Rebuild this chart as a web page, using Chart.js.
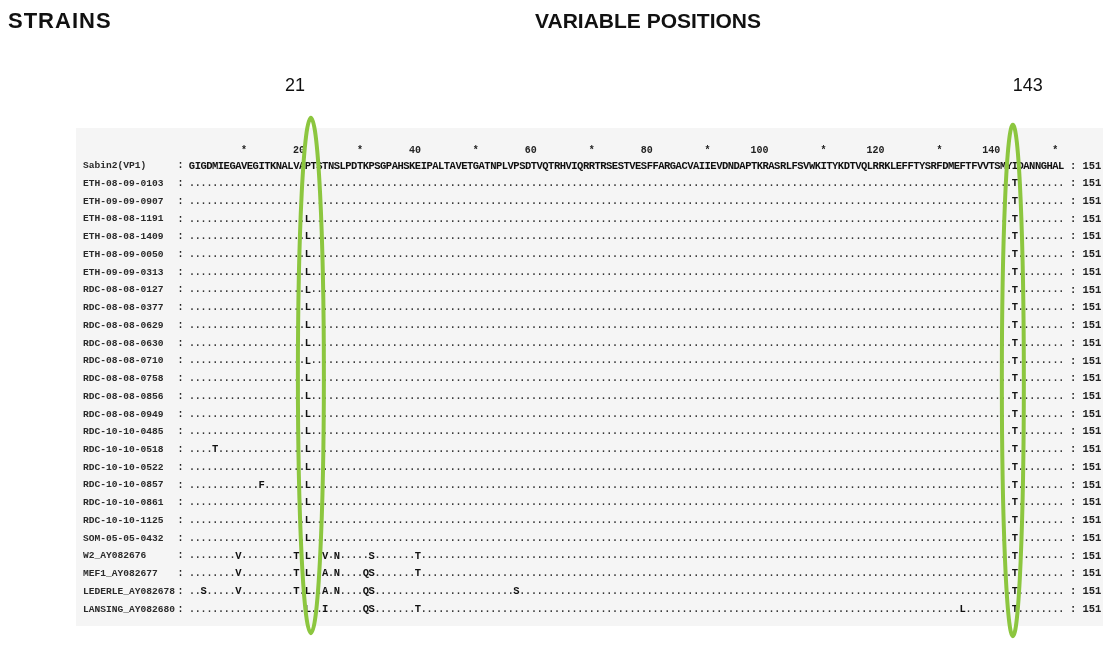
<!DOCTYPE html>
<html>
<head>
<meta charset="utf-8">
<script src="https://cdn.jsdelivr.net/npm/chart.js@4.4.1/dist/chart.umd.min.js"></script>
<style>
  html, body { margin: 0; padding: 0; background: #fff; }
  #wrap { width: 1103px; height: 646px; position: relative; }
</style>
</head>
<body>
<div id="wrap"><canvas id="alignChart"></canvas></div>
<script>
const strains = [
  "Sabin2(VP1)",
  "ETH-08-09-0103", "ETH-09-09-0907", "ETH-08-08-1191", "ETH-08-08-1409",
  "ETH-08-09-0050", "ETH-09-09-0313",
  "RDC-08-08-0127", "RDC-08-08-0377", "RDC-08-08-0629", "RDC-08-08-0630",
  "RDC-08-08-0710", "RDC-08-08-0758", "RDC-08-08-0856", "RDC-08-08-0949",
  "RDC-10-10-0485", "RDC-10-10-0518", "RDC-10-10-0522", "RDC-10-10-0857",
  "RDC-10-10-0861", "RDC-10-10-1125",
  "SOM-05-05-0432",
  "W2_AY082676", "MEF1_AY082677", "LEDERLE_AY082678", "LANSING_AY082680"
];

// reference VP1 segment (positions 1-151)
const sabin2Seq =
  "GIGDMIEGAVEGITKNALVAPTSTNSLPDTKPSGPAHSKEIPALTAVETGATNPLVPSDTVQTRHVIQRRTRSESTVESFFARGACVAIIEVDNDAPTKRASRLFSVWKITYKDTVQLRRKLEFFTYSRFDMEFTFVVTSMYIDANNGHAL";

// differences from the reference, same order as strains ("position + residue")
const substitutions = [
  "",
  "143T", "143T", "21L 143T", "21L 143T", "21L 143T", "21L 143T",
  "21L 143T", "21L 143T", "21L 143T", "21L 143T",
  "21L 143T", "21L 143T", "21L 143T", "21L 143T",
  "21L 143T", "5T 21L 143T", "21L 143T", "13F 21L 143T",
  "21L 143T", "21L 143T",
  "21L 143T",
  "9V 19T 21L 24V 26N 32S 40T 143T",
  "9V 19T 21L 24A 26N 31Q 32S 40T 143T",
  "3S 9V 19T 21L 24A 26N 31Q 32S 57S 143T",
  "21L 24I 31Q 32S 40T 134L 143T"
];

const alignedLength = 151;
const rulerMarks = [10, 20, 30, 40, 50, 60, 70, 80, 90, 100, 110, 120, 130, 140, 150];
const rulerLabels = ["*", "20", "*", "40", "*", "60", "*", "80", "*", "100", "*", "120", "*", "140", "*"];
const highlightPositions = [21, 143];
const highlightLabels = ["21", "143"];

const monoFont = "'Liberation Mono', 'DejaVu Sans Mono', monospace";

function buildPoints() {
  const points = [];
  strains.forEach((name, row) => {
    const subs = {};
    substitutions[row].split(" ").filter(Boolean).forEach((s) => {
      subs[parseInt(s)] = s.replace(/\d+/, "");
    });
    for (let p = 1; p <= alignedLength; p++) {
      const ch = row === 0 ? sabin2Seq[p - 1] : (subs[p] || ".");
      points.push({ x: p, y: name, ch: ch });
    }
  });
  return points;
}

const alignmentText = {
  id: "alignmentText",
  beforeDraw(chart) {
    const ctx = chart.ctx;
    const area = chart.chartArea;
    ctx.save();
    ctx.fillStyle = "#f5f5f5";
    ctx.fillRect(76, area.top - 29, chart.width - 76, area.bottom - area.top + 37);
    ctx.restore();
  },
  afterDatasetsDraw(chart) {
    const ctx = chart.ctx;
    const xs = chart.scales.x;
    const ys = chart.scales.y;
    const pts = chart.data.datasets[0].data;
    const meta = chart.getDatasetMeta(0);

    ctx.save();
    ctx.textAlign = "center";
    ctx.textBaseline = "middle";
    meta.data.forEach((el, i) => {
      const ch = pts[i].ch;
      if (ch === ".") {
        ctx.font = "bold 10px " + monoFont;
        ctx.fillStyle = "#333";
      } else {
        ctx.font = "bold 10.5px " + monoFont;
        ctx.fillStyle = "#111";
      }
      ctx.fillText(ch, el.x, el.y);
    });
    // ":" between the names and the residues
    ctx.font = "bold 10px " + monoFont;
    ctx.fillStyle = "#222";
    strains.forEach((s, r) => {
      ctx.fillText(":", xs.getPixelForValue(-1), ys.getPixelForValue(r));
    });

    // green ellipses round the variable positions
    const firstRow = ys.getPixelForValue(0);
    const lastRow = ys.getPixelForValue(strains.length - 1);
    const shapes = [
      { dx: 3, rx: 13, top: firstRow - 48, bottom: lastRow + 24 },
      { dx: -2, rx: 11, top: firstRow - 41, bottom: lastRow + 27 }
    ];
    ctx.strokeStyle = "#8cc63f";
    ctx.lineWidth = 4;
    highlightPositions.forEach((pos, i) => {
      const s = shapes[i];
      const cx = xs.getPixelForValue(pos) + s.dx;
      ctx.beginPath();
      ctx.ellipse(cx, (s.top + s.bottom) / 2, s.rx, (s.bottom - s.top) / 2, 0, 0, Math.PI * 2);
      ctx.stroke();
    });

    // position numbers above the ellipses
    ctx.fillStyle = "#111";
    ctx.font = "18px 'Liberation Sans', Arial, sans-serif";
    const labelDx = [-13, 13];
    highlightPositions.forEach((pos, i) => {
      ctx.fillText(highlightLabels[i], xs.getPixelForValue(pos) + labelDx[i], 86);
    });

    // headings
    ctx.font = "bold 21px 'Liberation Sans', Arial, sans-serif";
    ctx.textAlign = "center";
    ctx.fillText("VARIABLE POSITIONS", 648, 22);
    ctx.font = "bold 22px 'Liberation Sans', Arial, sans-serif";
    ctx.textAlign = "left";
    ctx.letterSpacing = "1px";
    ctx.fillText("STRAINS", 8, 22);
    ctx.restore();
  }
};

const ctx = document.getElementById("alignChart").getContext("2d");
new Chart(ctx, {
  type: "scatter",
  data: {
    datasets: [
      {
        label: "alignment",
        data: buildPoints(),
        pointRadius: 0,
        pointHoverRadius: 0,
        showLine: false
      }
    ]
  },
  options: {
    responsive: true,
    maintainAspectRatio: false,
    animation: false,
    events: [],
    layout: { padding: { left: 83, right: 0, top: 0, bottom: 28 } },
    plugins: {
      legend: { display: false },
      tooltip: { enabled: false }
    },
    scales: {
      x: {
        type: "linear",
        position: "top",
        min: -0.5,
        max: 152.5,
        grid: { display: false, drawTicks: false },
        border: { display: false },
        afterFit: (scale) => { scale.height = 157; },
        afterBuildTicks: (scale) => {
          // right-aligned numbers: last digit sits on its position
          scale.ticks = rulerMarks.map((m) => ({ value: m + 0.5 }));
        },
        ticks: {
          align: "end",
          padding: 1,
          maxRotation: 0,
          autoSkip: false,
          color: "#222",
          font: { family: monoFont, size: 10, weight: "bold" },
          callback: (value, index) => rulerLabels[index]
        }
      },
      y: {
        type: "category",
        labels: strains,
        offset: true,
        position: "left",
        grid: { display: false, drawTicks: false },
        border: { display: false },
        afterFit: (scale) => { scale.width = 100.3; },
        ticks: {
          crossAlign: "far",
          padding: 0,
          autoSkip: false,
          color: "#2a2a2a",
          font: { family: monoFont, size: 9.6, weight: "bold" }
        }
      },
      y2: {
        type: "category",
        labels: strains.map(() => ": " + alignedLength),
        offset: true,
        position: "right",
        grid: { display: false, drawTicks: false },
        border: { display: false },
        afterFit: (scale) => { scale.width = 33.1; },
        ticks: {
          crossAlign: "near",
          padding: 0,
          autoSkip: false,
          color: "#222",
          font: { family: monoFont, size: 10.5, weight: "bold" }
        }
      }
    }
  },
  plugins: [alignmentText]
});
</script>
</body>
</html>
